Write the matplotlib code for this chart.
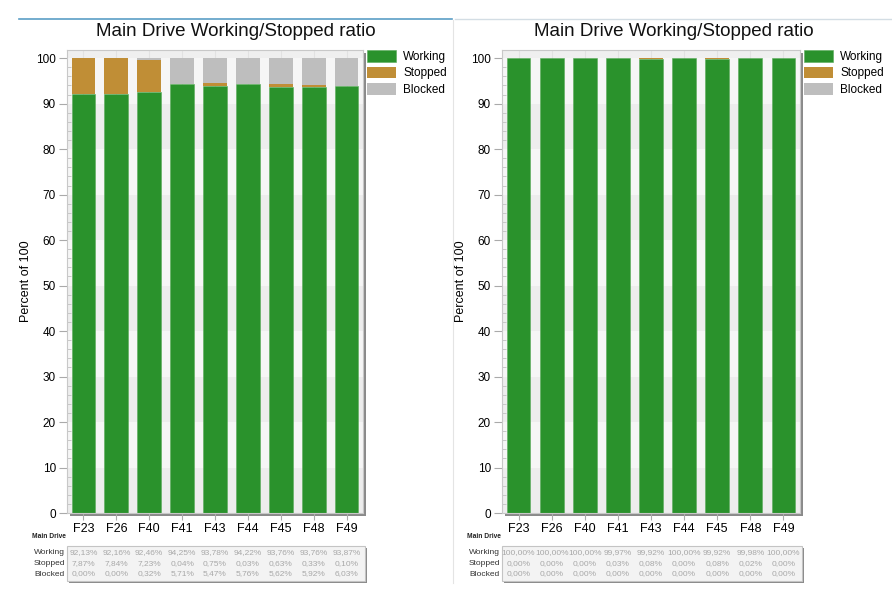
import matplotlib
matplotlib.use("Agg")
import matplotlib.pyplot as plt
from matplotlib.patches import Rectangle
from matplotlib.lines import Line2D
import matplotlib.transforms as mtransforms

plt.rcParams['font.family'] = ['Liberation Sans', 'DejaVu Sans']

machines = ["F23", "F26", "F40", "F41", "F43", "F44", "F45", "F48", "F49"]

left_working = [92.13, 92.16, 92.46, 94.25, 93.78, 94.22, 93.76, 93.76, 93.87]
left_stopped = [7.87, 7.84, 7.23, 0.04, 0.75, 0.03, 0.63, 0.33, 0.10]
left_blocked = [0.00, 0.00, 0.32, 5.71, 5.47, 5.76, 5.62, 5.92, 6.03]

right_working = [100.00, 100.00, 100.00, 99.97, 99.92, 100.00, 99.92, 99.98, 100.00]
right_stopped = [0.00, 0.00, 0.00, 0.03, 0.08, 0.00, 0.08, 0.02, 0.00]
right_blocked = [0.00, 0.00, 0.00, 0.00, 0.00, 0.00, 0.00, 0.00, 0.00]

series_names = ["Working", "Stopped", "Blocked"]
colors = ["#2a922c", "#c08e36", "#bebebe"]

W, H = 892, 597
fig = plt.figure(figsize=(W / 100, H / 100), dpi=100)


def fx(px):
    return px / W


def fy(py):
    return 1 - py / H


def shadow(x0, y0, x1, y1, off=3):
    fig.patches.append(Rectangle((fx(x0 + off), fy(y1 + off)), fx(x1 - x0), (y1 - y0) / H,
                                 transform=fig.transFigure, facecolor="#8a8a8a",
                                 edgecolor="none", zorder=0))


def panel(ax_px, panel_px, working, stopped, blocked):
    x0, x1, top, bottom = ax_px
    shadow(x0, top, x1, bottom, off=3)
    ax = fig.add_axes([fx(x0), fy(bottom), fx(x1 - x0), (bottom - top) / H])
    ax.set_zorder(2)
    xs = list(range(len(machines)))
    ax.set_xlim(-0.5, len(machines) - 0.5)
    ax.set_ylim(0, 101.8)
    ax.set_facecolor("#f0f0f0")
    for i in range(10):
        ax.axhspan(i * 10, i * 10 + 10, color="#ededed" if i % 2 == 0 else "#f6f6f6",
                   zorder=0, lw=0)
    ax.axhspan(100, 101.8, color="#efefef", zorder=0, lw=0)
    for x in xs:
        ax.axvline(x, color="#e2e2e2", lw=0.8, zorder=0.5)

    bottoms2 = [w + s for w, s in zip(working, stopped)]
    h1 = ax.bar(xs, working, width=0.72, color=colors[0], edgecolor="#5aaa5a", lw=0.4, zorder=2)
    h2 = ax.bar(xs, stopped, width=0.72, bottom=working, color=colors[1], lw=0, zorder=2)
    h3 = ax.bar(xs, blocked, width=0.72, bottom=bottoms2, color=colors[2], lw=0, zorder=2)

    ax.set_xticks(xs)
    ax.set_xticklabels(machines, fontsize=9)
    ax.set_yticks(range(0, 101, 10))
    ax.set_yticks(range(0, 101, 2), minor=True)
    ax.tick_params(axis="y", which="major", labelsize=8.5, length=6, color="#aaaaaa",
                   direction="out", pad=2)
    ax.tick_params(axis="y", which="minor", length=3, color="#c0c0c0", direction="in")
    ax.tick_params(axis="x", which="major", length=5, color="#aaaaaa", direction="out", pad=2)
    for s in ax.spines.values():
        s.set_color("#c8c8c8")
        s.set_linewidth(0.8)
    ax.set_ylabel("Percent of 100", fontsize=9, labelpad=3)

    ax.legend([h1, h2, h3], series_names, loc="upper left", bbox_to_anchor=(1.012, 1.0),
              frameon=False, fontsize=8.5, handlelength=2.5, handleheight=1.15,
              borderaxespad=0, borderpad=0, labelspacing=0.32, handletextpad=0.6)

    p0, p1 = panel_px
    fig.text(fx((p0 + p1) / 2), fy(31), "Main Drive Working/Stopped ratio",
             fontsize=13.5, ha="center", va="center", color="#111111")

    # data table under the chart
    tb_top, tb_bot = 546, 581
    shadow(x0, tb_top, x1 + 2, tb_bot, off=2)
    fig.patches.append(Rectangle((fx(x0), fy(tb_bot)), fx(x1 + 2 - x0), (tb_bot - tb_top) / H,
                                 transform=fig.transFigure, facecolor="#f3f3f3",
                                 edgecolor="#c4c4c4", lw=0.8, zorder=1))
    trans = mtransforms.blended_transform_factory(ax.transData, fig.transFigure)
    fig.text(fx(x0 - 1), fy(537), "Main Drive", fontsize=4.8, fontweight="bold",
             ha="right", va="center", color="#222222")
    rows = [working, stopped, blocked]
    row_y = [552.5, 563.5, 574]
    for name, vals, yy in zip(series_names, rows, row_y):
        fig.text(fx(x0 - 2), fy(yy), name, fontsize=6, ha="right", va="center", color="#333333")
        for x, v in zip(xs, vals):
            txt = f"{v:.2f}".replace(".", ",") + "%"
            fig.text(x, fy(yy), txt, transform=trans, fontsize=6, ha="center",
                     va="center", color="#a8a8a8", zorder=3)
    return ax


panel((67, 363, 50, 513), (19, 452), left_working, left_stopped, left_blocked)
panel((502, 800, 50, 513), (455, 892), right_working, right_stopped, right_blocked)

# header lines and panel separator
fig.lines.append(Line2D([fx(19), fx(452)], [fy(19), fy(19)], transform=fig.transFigure,
                        color="#5b9ec6", lw=1.2))
fig.lines.append(Line2D([fx(455), fx(892)], [fy(19), fy(19)], transform=fig.transFigure,
                        color="#d3dde4", lw=1.0))
fig.lines.append(Line2D([fx(453), fx(453)], [fy(20), fy(583)], transform=fig.transFigure,
                        color="#e4e4e4", lw=0.8))

fig.savefig("out.png", dpi=100, facecolor="white")
